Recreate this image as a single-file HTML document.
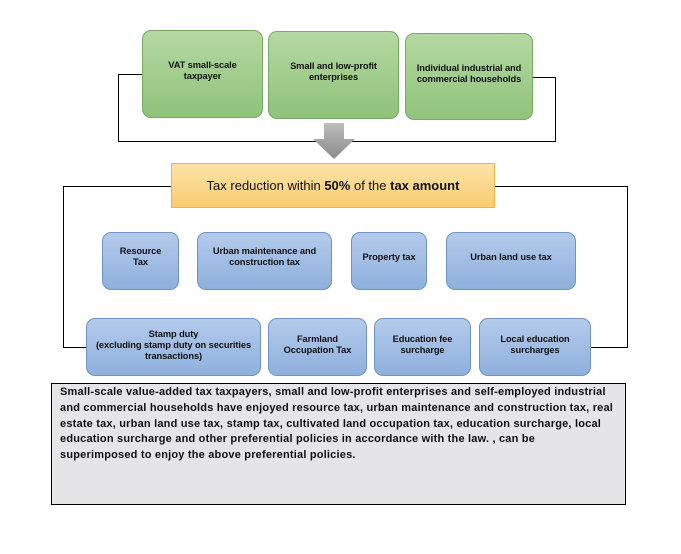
<!DOCTYPE html>
<html><head><meta charset="utf-8"><style>
body{margin:0;width:681px;height:554px;background:#fff;position:relative;overflow:hidden;font-family:"Liberation Sans",sans-serif;}
.b{position:absolute;box-sizing:border-box;border-radius:9px;display:flex;align-items:center;justify-content:center;text-align:center;font-weight:bold;font-size:9.3px;line-height:11px;color:#111;letter-spacing:-0.1px;}
.g{background:linear-gradient(#b5d8a2,#8fc37a);border:1px solid #7aa866;}
.bl{background:linear-gradient(#b4cbeb,#8eb0dd);border:1px solid #6f93c4;}
.l{position:absolute;background:#000;}
</style></head><body>
<div class="b g" style="left:142px;top:30px;width:121px;height:88px;padding-bottom:6px">VAT small-scale<br>taxpayer</div>
<div class="b g" style="left:268px;top:31px;width:131px;height:88px;padding-bottom:6px">Small and low-profit<br>enterprises</div>
<div class="b g" style="left:405px;top:33px;width:128px;height:87px;padding-bottom:6px">Individual industrial and<br>commercial households</div>
<div class="l" style="left:118px;top:74px;width:24px;height:1px"></div>
<div class="l" style="left:118px;top:74px;width:1px;height:68px"></div>
<div class="l" style="left:118px;top:141px;width:438px;height:1px"></div>
<div class="l" style="left:533px;top:77px;width:23px;height:1px"></div>
<div class="l" style="left:555px;top:77px;width:1px;height:65px"></div>
<svg style="position:absolute;left:312px;top:123px" width="44" height="37"><defs><linearGradient id="a" x1="0" x2="0" y1="0" y2="1"><stop offset="0" stop-color="#bdbdbd"/><stop offset="1" stop-color="#8a8a8a"/></linearGradient></defs><polygon points="12,0 32,0 32,16 43,16 22,36 1,16 12,16" fill="url(#a)"/></svg>
<div class="b" style="left:171px;top:163px;width:324px;height:45px;border-radius:0;background:linear-gradient(#fde3a6,#f9cc73);border:1px solid #e8b84a;font-weight:normal;font-size:13px;letter-spacing:0;">Tax reduction within&nbsp;<b>50%</b>&nbsp;of the&nbsp;<b>tax amount</b></div>
<div class="l" style="left:63px;top:186px;width:108px;height:1px"></div>
<div class="l" style="left:63px;top:186px;width:1px;height:162px"></div>
<div class="l" style="left:63px;top:347px;width:23px;height:1px"></div>
<div class="l" style="left:495px;top:186px;width:133px;height:1px"></div>
<div class="l" style="left:627px;top:186px;width:1px;height:162px"></div>
<div class="l" style="left:591px;top:347px;width:37px;height:1px"></div>
<div class="b bl" style="left:102px;top:232px;width:77px;height:58px;padding-bottom:8px">Resource<br>Tax</div>
<div class="b bl" style="left:197px;top:232px;width:135px;height:58px;padding-bottom:8px">Urban maintenance and<br>construction tax</div>
<div class="b bl" style="left:351px;top:232px;width:76px;height:58px;padding-bottom:8px">Property tax</div>
<div class="b bl" style="left:446px;top:232px;width:130px;height:58px;padding-bottom:8px">Urban land use tax</div>
<div class="b bl" style="left:86px;top:318px;width:175px;height:58px;padding-bottom:4px">Stamp duty<br>(excluding stamp duty on securities<br>transactions)</div>
<div class="b bl" style="left:268px;top:318px;width:99px;height:58px;padding-bottom:4px">Farmland<br>Occupation Tax</div>
<div class="b bl" style="left:374px;top:318px;width:97px;height:58px;padding-bottom:4px">Education fee<br>surcharge</div>
<div class="b bl" style="left:479px;top:318px;width:112px;height:58px;padding-bottom:4px">Local education<br>surcharges</div>
<div style="position:absolute;left:51px;top:383px;width:575px;height:122px;box-sizing:border-box;border:1px solid #000;background:#e5e4e6;padding:1px 0 0 8px;font-size:11px;letter-spacing:0.2px;font-weight:bold;line-height:15.8px;color:#111;white-space:nowrap;">Small-scale value-added tax taxpayers, small and low-profit enterprises and self-employed industrial<br>and commercial households have enjoyed resource tax, urban maintenance and construction tax, real<br>estate tax, urban land use tax, stamp tax, cultivated land occupation tax, education surcharge, local<br>education surcharge and other preferential policies in accordance with the law. , can be<br>superimposed to enjoy the above preferential policies.</div>
</body></html>
